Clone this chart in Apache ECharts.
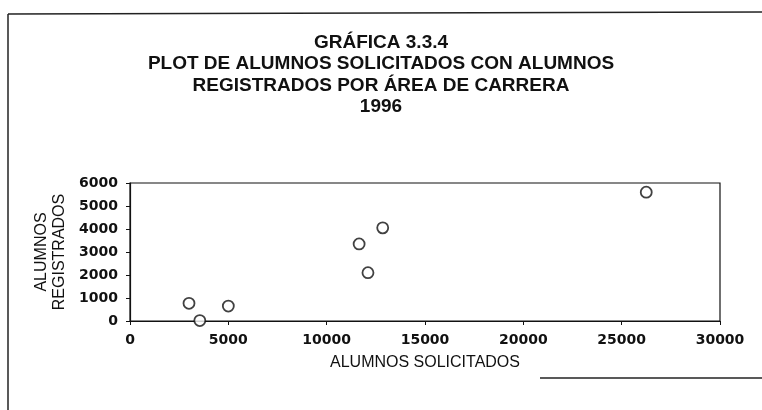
<!DOCTYPE html>
<html lang="es">
<head>
<meta charset="UTF-8">
<script src="https://cdn.jsdelivr.net/npm/echarts@6/dist/echarts.min.js"></script>
<style>
  html, body { margin: 0; padding: 0; background: #fff; }
  #main { width: 762px; height: 410px; }
</style>
</head>
<body>
<div id="main"></div>
<script>
// alumnos solicitados (x) contra alumnos registrados (y), por área de carrera
var solicitados = [3000, 3550, 5000, 11650, 12100, 12850, 26250];
var registrados = [770, 20, 650, 3350, 2100, 4050, 5600];
var xTicks = [0, 5000, 10000, 15000, 20000, 25000, 30000];
var yTicks = [0, 1000, 2000, 3000, 4000, 5000, 6000];

var puntos = [];
for (var i = 0; i < solicitados.length; i++) {
  puntos.push([solicitados[i], registrados[i]]);
}

var chart = echarts.init(document.getElementById('main'));
var fuente = 'Liberation Sans, Arial, sans-serif';
var fuenteNum = 'DejaVu Sans, sans-serif';

chart.setOption({
  animation: false,
  backgroundColor: '#fff',
  title: {
    text: 'GRÁFICA 3.3.4\nPLOT DE ALUMNOS SOLICITADOS CON ALUMNOS\nREGISTRADOS POR ÁREA DE CARRERA\n1996',
    left: 'center',
    top: 27,
    textStyle: { fontFamily: fuente, fontSize: 19, fontWeight: 'bold', color: '#111', lineHeight: 21.5 }
  },
  grid: { left: 130, right: 42, top: 183, bottom: 89, show: true, borderColor: '#111', borderWidth: 1.2 },
  xAxis: {
    type: 'value',
    min: xTicks[0], max: xTicks[xTicks.length - 1], interval: 5000,
    name: 'ALUMNOS SOLICITADOS',
    nameLocation: 'middle', nameGap: 34,
    nameTextStyle: { fontFamily: fuente, fontSize: 16, color: '#111' },
    axisLine: { lineStyle: { color: '#111', width: 1.2 } },
    axisTick: { length: 4, lineStyle: { color: '#111' } },
    axisLabel: {
      fontFamily: fuenteNum, fontSize: 14, fontWeight: 'bold', color: '#111', margin: 12,
      formatter: function (v) { return String(v); }
    },
    splitLine: { show: false }
  },
  yAxis: {
    type: 'value',
    min: yTicks[0], max: yTicks[yTicks.length - 1], interval: 1000,
    name: 'ALUMNOS\nREGISTRADOS',
    nameLocation: 'middle', nameGap: 59,
    nameTextStyle: { fontFamily: fuente, fontSize: 16, color: '#111', lineHeight: 18 },
    axisLine: { lineStyle: { color: '#111', width: 1.2 } },
    axisTick: { length: 4, lineStyle: { color: '#111' } },
    axisLabel: {
      fontFamily: fuenteNum, fontSize: 14, fontWeight: 'bold', color: '#111', margin: 12,
      formatter: function (v) { return String(v); }
    },
    splitLine: { show: false }
  },
  graphic: [
    { type: 'line', shape: { x1: 8, y1: 14, x2: 762, y2: 12 }, style: { stroke: '#222', lineWidth: 1.5 } },
    { type: 'line', shape: { x1: 8, y1: 14, x2: 8, y2: 410 }, style: { stroke: '#222', lineWidth: 1.5 } },
    { type: 'line', shape: { x1: 540, y1: 378, x2: 762, y2: 378 }, style: { stroke: '#222', lineWidth: 1.5 } }
  ],
  series: [{
    type: 'scatter',
    data: puntos,
    symbol: 'circle',
    symbolSize: 11,
    itemStyle: { color: '#fff', borderColor: '#111', borderWidth: 1.8 }
  }]
});
</script>
</body>
</html>
